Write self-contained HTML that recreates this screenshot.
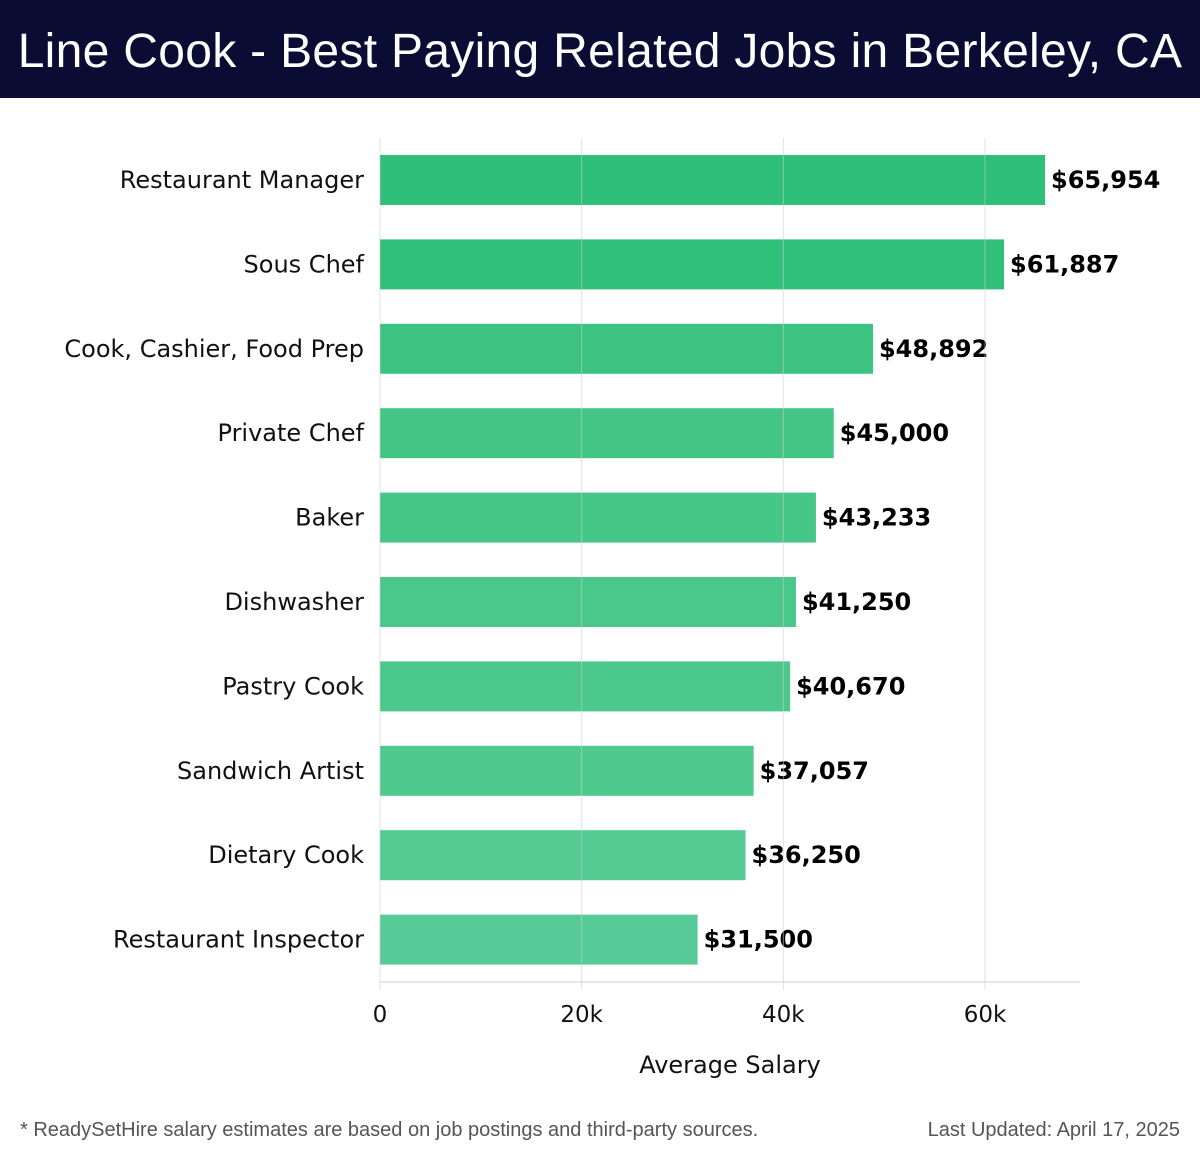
<!DOCTYPE html>
<html><head><meta charset="utf-8"><style>
body{margin:0;width:1200px;height:1158px;background:#fff;font-family:"DejaVu Sans","Liberation Sans",sans-serif;overflow:hidden;position:relative}
#hdr{position:absolute;left:0;top:0;width:1200px;height:98px;background:#0b0c33;color:#fff;font-family:"Liberation Sans",sans-serif;font-size:48px;line-height:104px;text-align:center;letter-spacing:0.3px}
.foot{position:absolute;top:1119px;font-family:"Liberation Sans",sans-serif;font-size:20px;color:#555}
</style></head><body>
<div id="hdr">Line Cook - Best Paying Related Jobs in Berkeley, CA</div>
<svg id="chart" width="1200" height="1100" style="position:absolute;left:0;top:0"></svg>
<div class="foot" style="left:20px">* ReadySetHire salary estimates are based on job postings and third-party sources.</div>
<div class="foot" style="right:20px">Last Updated: April 17, 2025</div>
<script>
const categories=["Restaurant Manager","Sous Chef","Cook, Cashier, Food Prep","Private Chef","Baker","Dishwasher","Pastry Cook","Sandwich Artist","Dietary Cook","Restaurant Inspector"];
const values=[65954,61887,48892,45000,43233,41250,40670,37057,36250,31500];
const labels=["$65,954","$61,887","$48,892","$45,000","$43,233","$41,250","$40,670","$37,057","$36,250","$31,500"];
const ticks=[0,20000,40000,60000];
const tickLabels=["0","20k","40k","60k"];
const NS="http://www.w3.org/2000/svg";
const svg=document.getElementById('chart');
const x=v=>380+v*(605/60000);
const y=i=>155+i*84.4;
const bh=50;
function mk(t,a,txt){const e=document.createElementNS(NS,t);for(const k in a)e.setAttribute(k,a[k]);if(txt!==undefined)e.textContent=txt;svg.appendChild(e);return e;}
const cols=["#2ebf78","#30c07a","#3dc381","#43c585","#46c687","#4ac78a","#4cc88c","#50c98f","#52ca92","#57cb97"];
values.forEach((v,i)=>{
 const r=mk('rect',{x:x(0),y:y(i),width:x(v)-x(0),height:bh,fill:cols[i]});
 
 
 const t=mk('text',{x:x(v)+6,y:y(i)+bh/2+8,'font-size':24,'font-weight':'bold',fill:'#000'},labels[i]);
 
 
 const c=mk('text',{x:364,y:y(i)+bh/2+8,'font-size':24,'text-anchor':'end',fill:'#111'},categories[i]);
 
 
});
ticks.forEach((t,i)=>{
 const g=mk('line',{x1:x(t),x2:x(t),y1:138,y2:990,stroke:'#ccc','stroke-width':1,'stroke-opacity':0.6});
 
 
 const l=mk('text',{x:x(t),y:1022,'font-size':23,'text-anchor':'middle',fill:'#111'},tickLabels[i]);
 
 
});
const ax=mk('line',{x1:380,x2:1080,y1:982,y2:982,stroke:'#ccc','stroke-width':1});


const at=mk('text',{x:730,y:1073,'font-size':24,'text-anchor':'middle',fill:'#111'},'Average Salary');


</script>
</body></html>
